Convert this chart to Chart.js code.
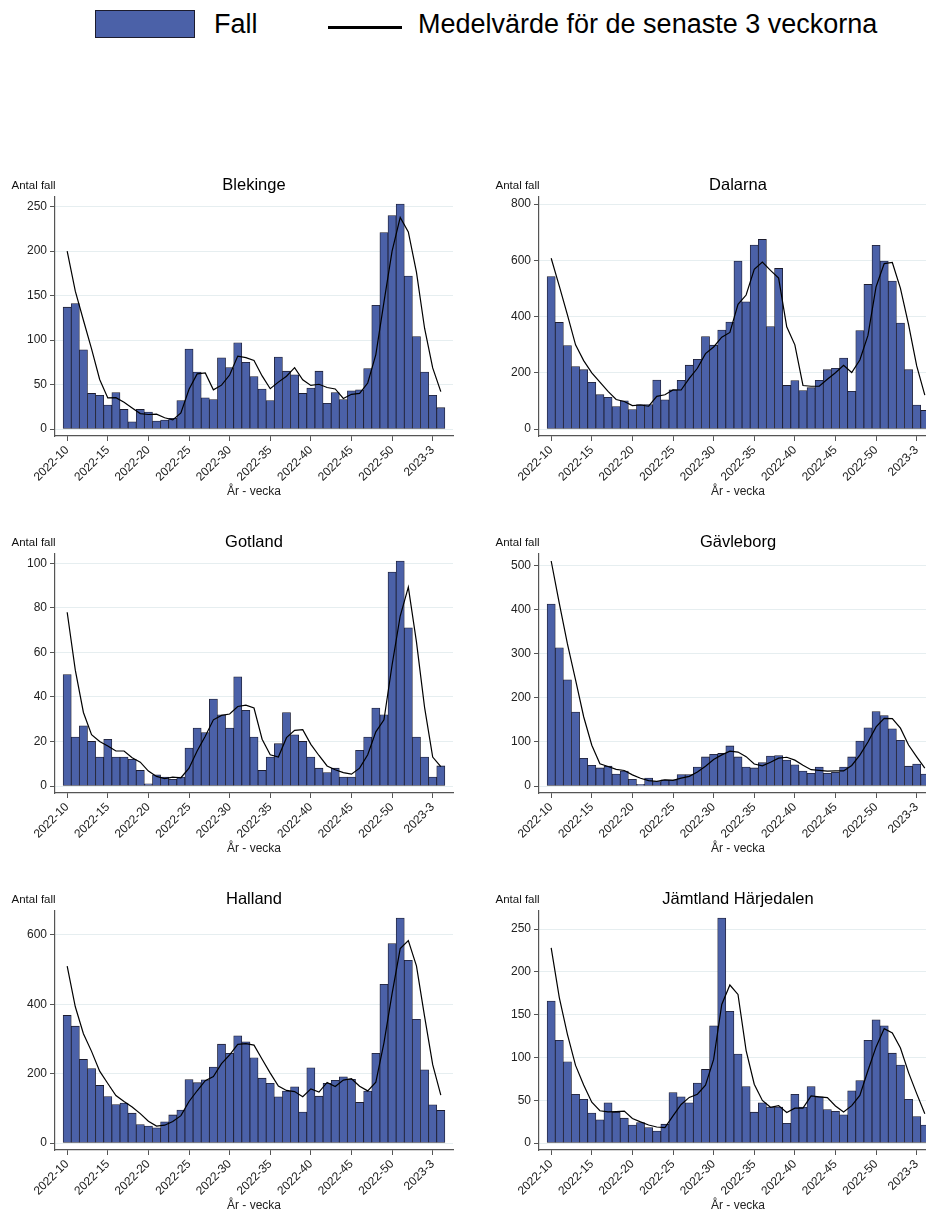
<!DOCTYPE html>
<html><head><meta charset="utf-8">
<script src="https://cdn.jsdelivr.net/npm/chart.js@4.4.1/dist/chart.umd.min.js"></script>
<style>
html,body{margin:0;padding:0;background:#fff;}
body{width:926px;height:1212px;overflow:hidden;position:relative;font-family:"Liberation Sans",Arial,sans-serif;}
.swatch{position:absolute;left:95px;top:10px;width:100px;height:28px;box-sizing:border-box;background:#4b61a8;border:1.5px solid #1c1c2e;}
.ltxt{position:absolute;font-size:27px;line-height:30px;top:9px;color:#000;white-space:nowrap;}
.lline{position:absolute;left:328px;top:25.5px;width:74px;height:3px;background:#000;}
.panel{position:absolute;width:463px;height:357px;}
</style></head>
<body>
<div class="swatch"></div><div class="ltxt" style="left:214px">Fall</div>
<div class="lline"></div><div class="ltxt" style="left:418px">Medelvärde för de senaste 3 veckorna</div>
<div class="panel" style="left:0;top:160px"><canvas id="c0"></canvas></div>
<div class="panel" style="left:484px;top:160px"><canvas id="c1"></canvas></div>
<div class="panel" style="left:0;top:517px"><canvas id="c2"></canvas></div>
<div class="panel" style="left:484px;top:517px"><canvas id="c3"></canvas></div>
<div class="panel" style="left:0;top:874px"><canvas id="c4"></canvas></div>
<div class="panel" style="left:484px;top:874px"><canvas id="c5"></canvas></div>
<script>
const FONT = '"Liberation Sans", Arial, sans-serif';

const weeks = ["2022-10","2022-11","2022-12","2022-13","2022-14","2022-15","2022-16","2022-17","2022-18","2022-19",
"2022-20","2022-21","2022-22","2022-23","2022-24","2022-25","2022-26","2022-27","2022-28","2022-29",
"2022-30","2022-31","2022-32","2022-33","2022-34","2022-35","2022-36","2022-37","2022-38","2022-39",
"2022-40","2022-41","2022-42","2022-43","2022-44","2022-45","2022-46","2022-47","2022-48","2022-49",
"2022-50","2022-51","2022-52","2023-1","2023-2","2023-3","2023-4"];
const xTickIdx = [0,5,10,15,20,25,30,35,40,45];

const regions = ["Blekinge","Dalarna","Gotland","Gävleborg","Halland","Jämtland Härjedalen"];

const blekingeFall = [137,141,89,40,38,27,41,22,8,22,19,9,10,12,32,90,64,35,33,80,69,97,75,59,45,32,81,65,61,40,46,65,29,41,33,43,44,68,139,221,240,253,172,104,64,38,24];
const blekingeMedel = [200,155,122.3,90,55.7,35,35.3,30,23.7,17.3,16.3,16.7,12.7,10.3,18,44.7,62,63,44,49.3,60.7,82,80.3,77,59.7,45.3,52.7,59.3,69,55.3,49,50.3,46.7,45,34.3,39,40,51.7,83.7,142.7,200,238,221.7,176.3,113.3,68.7,42];
const blekingeTicks = [0,50,100,150,200,250];

const dalarnaFall = [542,379,297,222,211,166,122,113,80,100,69,87,87,174,104,139,173,227,248,329,298,352,380,597,452,654,674,364,571,155,172,137,147,173,211,216,252,134,350,514,653,597,526,377,211,85,66];
const dalarnaMedel = [607,508,406,299.3,243.3,199.7,166.3,133.7,105,97.7,83,85.3,81,116,121.7,139,138.7,179.7,216,268,291.7,326.3,343.3,443,476.3,567.7,593.3,564,536.3,363.3,299.3,154.7,152,152.3,177,200,226.3,200.7,245.3,332.7,505.7,588,592,500,371.3,224.3,120.7];
const dalarnaTicks = [0,200,400,600,800];

const gotlandFall = [50,22,27,20,13,21,13,13,12,7,1,5,4,3,4,17,26,24,39,32,26,49,34,22,7,13,19,33,23,20,13,8,6,8,4,4,16,22,35,32,96,101,71,22,13,4,9];
const gotlandMedel = [78,52,33,23,20,18,15.7,15.7,12.7,10.7,6.7,4.3,3.3,4,3.7,8,15.7,22.3,29.7,31.7,32.3,35.7,36.3,35,21,14,13,21.7,25,25.3,18.7,13.7,9,7.3,6,5.3,8,14,24.3,29.7,54.3,76.3,89.3,64.7,35.3,13,8.7];
const gotlandTicks = [0,20,40,60,80,100];

const gavleborgFall = [413,314,241,168,63,47,41,45,27,34,15,4,18,10,14,14,26,26,43,66,72,74,91,66,43,41,53,68,69,59,48,34,29,43,29,31,43,66,102,132,169,160,130,104,45,50,27];
const gavleborgMedel = [511,415,322.7,241,157.3,92.7,50.3,44.3,37.7,35.3,25.3,17.7,12.3,10.7,14,12.7,18,22,31.7,45,60.3,70.7,79,77,66.7,50,45.7,54,63.3,65.3,58.7,47,37,35.3,33.7,34.3,34.3,46.7,70.3,100,134.3,153.7,153,131.3,93,66.3,40.7];
const gavleborgTicks = [0,100,200,300,400,500];

const hallandFall = [368,337,241,215,166,134,111,115,86,53,49,44,61,81,95,183,174,182,219,285,259,309,292,246,187,172,133,150,162,89,217,135,172,181,191,184,117,150,259,458,575,649,527,357,211,110,94];
const hallandMedel = [510,393,315.3,264.3,207.3,171.7,137,120,104,84.7,62.7,48.7,51.3,62,79,119.7,150.7,179.7,191.7,228.7,254.3,284.3,286.7,282.3,241.7,201.7,164,151.7,148.3,133.7,156,147,174.7,162.7,181.3,185.3,164,150.3,175.3,289,430.7,560.7,583.7,511,365,226,138.3];
const hallandTicks = [0,200,400,600];

const jamtlandFall = [166,120,95,57,51,35,27,47,36,29,21,24,18,14,22,59,54,47,70,86,137,263,154,104,66,36,47,42,42,23,57,42,66,54,39,37,33,61,73,120,144,137,105,91,51,31,21];
const jamtlandMedel = [228,170,127,90.7,67.7,47.7,37.7,36.3,36.7,37.3,28.7,24.7,21,18.7,18,31.7,45,53.3,57,67.7,97.7,162,184.7,173.7,108,68.7,49.7,41.7,43.7,35.7,40.7,40.7,55,54,53,43.3,36.3,43.7,55.7,84.7,112.3,133.7,128.7,111,82.3,57.7,34.3];
const jamtlandTicks = [0,50,100,150,200,250];

const antalPlugin = {
  id: 'antalFall',
  afterDraw(chart) {
    const c = chart.ctx;
    c.save();
    c.font = '11.5px ' + FONT;
    c.fillStyle = '#111';
    c.textAlign = 'left';
    c.textBaseline = 'middle';
    c.fillText('Antal fall', 11.5, 26);
    c.restore();
  }
};

function makeChart(id, title, fall, medel, yTicks) {
  const yTop = Math.max(Math.max(...fall), Math.max(...medel), yTicks[yTicks.length - 1]);
  const pad = yTop * 7 / 225;
  new Chart(document.getElementById(id), {
    type: 'bar',
    data: {
      datasets: [
        { type: 'line', label: 'Medelvärde för de senaste 3 veckorna',
          data: medel.map((v, i) => ({ x: i, y: v })),
          borderColor: '#000', borderWidth: 1.2, pointRadius: 0, tension: 0, order: 0 },
        { type: 'bar', label: 'Fall',
          data: fall.map((v, i) => ({ x: i, y: v })),
          backgroundColor: '#4b61a8', borderColor: '#1c1c2e', borderWidth: 0.8,
          borderSkipped: false, barPercentage: 1, categoryPercentage: 1, order: 1 }
      ]
    },
    options: {
      responsive: true, maintainAspectRatio: false, animation: false,
      layout: { padding: { left: 0, right: 10, top: 0, bottom: 0 } },
      plugins: {
        legend: { display: false }, tooltip: { enabled: false },
        title: { display: true, text: title, fullSize: false, color: '#000',
          font: { size: 16.5, family: FONT, weight: 'normal' }, padding: { top: 16, bottom: 1.2 } }
      },
      scales: {
        x: {
          type: 'linear', min: -1.5, max: 47.5, offset: false,
          afterBuildTicks: s => { s.ticks = xTickIdx.map(v => ({ value: v })); },
          afterFit: s => { s.height = 81; },
          ticks: { autoSkip: false, maxRotation: 45, minRotation: 45, padding: 2,
            callback: v => weeks[v], color: '#222', font: { size: 12, family: FONT } },
          grid: { offset: false, drawOnChartArea: false, drawTicks: true, tickLength: 5, tickColor: '#555' },
          border: { color: '#555', width: 1.2 },
          title: { display: true, text: 'År - vecka', color: '#222',
            font: { size: 12, family: FONT }, padding: { top: 0, bottom: 18 } }
        },
        y: {
          min: -pad, max: yTop + pad,
          afterBuildTicks: s => { s.ticks = yTicks.map(v => ({ value: v })); },
          afterFit: s => { s.width = 55; },
          ticks: { padding: 3, color: '#222', font: { size: 12, family: FONT } },
          grid: { color: '#e6eef0', tickColor: '#555', tickLength: 5 },
          border: { color: '#555', width: 1.2 }
        }
      }
    },
    plugins: [antalPlugin]
  });
}

makeChart('c0', regions[0], blekingeFall, blekingeMedel, blekingeTicks);
makeChart('c1', regions[1], dalarnaFall, dalarnaMedel, dalarnaTicks);
makeChart('c2', regions[2], gotlandFall, gotlandMedel, gotlandTicks);
makeChart('c3', regions[3], gavleborgFall, gavleborgMedel, gavleborgTicks);
makeChart('c4', regions[4], hallandFall, hallandMedel, hallandTicks);
makeChart('c5', regions[5], jamtlandFall, jamtlandMedel, jamtlandTicks);
</script>
</body></html>
